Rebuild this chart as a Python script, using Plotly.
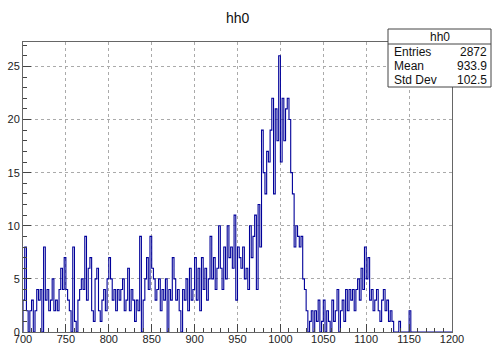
import plotly.graph_objects as go

# ---- data (bin width 2, 700..1200) ----
BIN_LO = 700
BIN_W = 2
counts = [
    3, 8, 2, 0, 2,   3, 0, 2, 4, 3,   4, 0, 8, 3, 4,   2, 3, 5, 2, 3,
    2, 4, 6, 4, 7,   4, 3, 2, 0, 8,   1, 0, 3, 4, 5,   4, 9, 3, 6, 7,
    2, 1, 5, 6, 2,   1, 3, 4, 2, 5,   7, 5, 3, 4, 2,   4, 3, 4, 5, 2,
    3, 6, 2, 4, 3,   1, 3, 2, 9, 0,   3, 5, 7, 4, 9,   6, 5, 3, 4, 5,
    2, 4, 3, 5, 0,   4, 3, 7, 5, 3,   4, 2, 0, 4, 3,   5, 2, 6, 3, 4,
    7, 3, 6, 2, 7,   4, 6, 3, 5, 9,   5, 7, 4, 6, 10,  6, 4, 8, 5, 10,
    7, 8, 6, 11, 3,  8, 7, 6, 8, 5,   6, 4, 10, 7, 9,  11, 4, 12, 8, 19,
    15, 13, 17, 16, 19,  22, 13, 21, 18, 26,  16, 22, 18, 21, 22,  20, 15, 13, 8, 10,
    9, 8, 9, 5, 4,   2, 0, 1, 2, 0,   2, 1, 3, 0, 1,   3, 0, 2, 1, 0,
    3, 1, 2, 4, 0,   2, 3, 1, 4, 2,   4, 3, 4, 2, 4,   5, 3, 6, 4, 8,
    5, 7, 3, 4, 2,   3, 4, 2, 1, 3,   4, 2, 3, 1, 2,   1, 0, 0, 0, 1,
    0, 0, 0, 0, 0,   2, 0, 0, 0, 0,
    0, 0, 0, 0, 0,   0, 0, 0, 0, 0,   0, 0, 0, 0, 0,   0, 0, 0, 0, 0,
]
title_text = "hh0"
stats_labels = ["Entries", "Mean", "Std Dev"]
stats_values = ["2872", "933.9", "102.5"]
x_tickvals = [700, 750, 800, 850, 900, 950, 1000, 1050, 1100, 1150, 1200]
y_tickvals = [0, 5, 10, 15, 20, 25]

# ---- geometry ----
W, H = 492, 345
L, R, T, B = 23, 452, 42, 332


def px(x):
    return (x - L) / (R - L)


def py(y):
    return (B - y) / (B - T)


edges = [BIN_LO + BIN_W * i for i in range(len(counts) + 1)]
xs = [edges[0]] + edges
ys = [0] + counts + [counts[-1]]

fig = go.Figure()
fig.add_trace(go.Scatter(
    x=xs, y=ys, mode="lines", line_shape="hv",
    line=dict(color="#000099", width=1.1), hoverinfo="skip", showlegend=False,
))

font_family = "Liberation Sans, Arial, sans-serif"

fig.update_layout(
    width=W, height=H,
    margin=dict(l=L, r=W - R, t=T, b=H - B, autoexpand=False),
    paper_bgcolor="white", plot_bgcolor="white",
    font=dict(family=font_family, size=11, color="#222"),
    showlegend=False,
    xaxis=dict(
        range=[700, 1200], tickvals=x_tickvals, ticktext=[str(v) for v in x_tickvals],
        ticks="inside", ticklen=8, tickcolor="#444", tickwidth=1,
        minor=dict(dtick=10, tick0=700, ticks="inside", ticklen=4, tickcolor="#444", showgrid=False),
        showgrid=True, gridcolor="#aaaaaa", griddash="dot", gridwidth=1,
        showline=True, linecolor="#666", linewidth=1, mirror=True,
        zeroline=False, automargin=False, fixedrange=True,
        ticklabelstandoff=-3,
        tickfont=dict(size=11, color="#222"),
    ),
    yaxis=dict(
        range=[0, 27.3], tickvals=y_tickvals, ticktext=[str(v) for v in y_tickvals],
        ticks="inside", ticklen=8, tickcolor="#444", tickwidth=1,
        minor=dict(dtick=1, tick0=0, ticks="inside", ticklen=4, tickcolor="#444", showgrid=False),
        showgrid=True, gridcolor="#aaaaaa", griddash="dot", gridwidth=1,
        showline=True, linecolor="#666", linewidth=1, mirror=True,
        zeroline=False, automargin=False, fixedrange=True,
        tickfont=dict(size=11, color="#222"),
    ),
)

# title
fig.add_annotation(
    text=title_text, xref="paper", yref="paper", x=px(238), y=py(18),
    showarrow=False, xanchor="center", yanchor="middle",
    font=dict(family=font_family, size=14, color="#111"),
)

# stats box
bx0, bx1, by0, by1 = 388, 491, 29, 87
fig.add_shape(type="rect", xref="paper", yref="paper",
              x0=px(bx0), x1=px(bx1), y0=py(by1), y1=py(by0),
              line=dict(color="#444", width=1), fillcolor="white", layer="above")
fig.add_shape(type="line", xref="paper", yref="paper",
              x0=px(bx0), x1=px(bx1), y0=py(44), y1=py(44),
              line=dict(color="#444", width=1), layer="above")
fig.add_annotation(text=title_text, xref="paper", yref="paper", x=px(440), y=py(37),
                   showarrow=False, xanchor="center", yanchor="middle",
                   font=dict(family=font_family, size=12, color="#111"))
row_y = [52, 66, 80]
for lab, val, yy in zip(stats_labels, stats_values, row_y):
    fig.add_annotation(text=lab, xref="paper", yref="paper", x=px(392), y=py(yy),
                       showarrow=False, xanchor="left", yanchor="middle",
                       font=dict(family=font_family, size=12, color="#111"))
    fig.add_annotation(text=val, xref="paper", yref="paper", x=px(489), y=py(yy),
                       showarrow=False, xanchor="right", yanchor="middle",
                       font=dict(family=font_family, size=12, color="#111"))

fig.write_html(
    "out.html",
    config={"displayModeBar": False},
    post_script="document.body.style.margin='0';document.body.style.overflow='hidden';",
)
